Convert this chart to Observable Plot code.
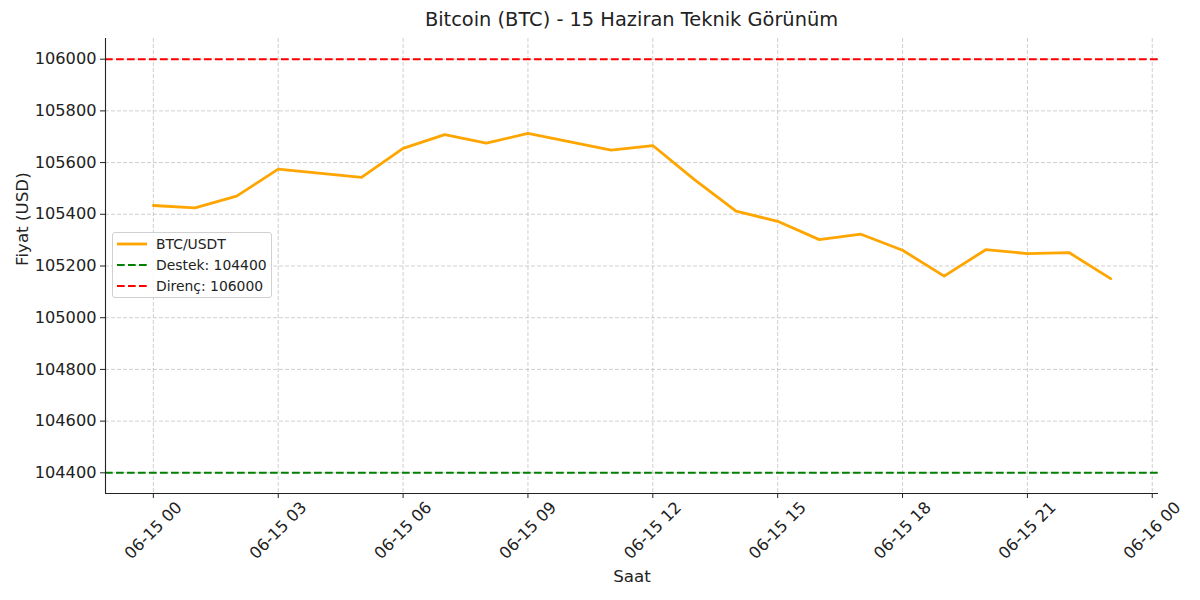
<!DOCTYPE html>
<html><head><meta charset="utf-8">
<script src="https://cdn.jsdelivr.net/npm/d3@7"></script>
<script src="https://cdn.jsdelivr.net/npm/@observablehq/plot@0.6"></script>
<style>
body{margin:0;background:#fff;font-family:"DejaVu Sans",sans-serif;}
#wrap{position:relative;width:1200px;height:600px;overflow:hidden;}
#chart{position:absolute;left:0;top:0;}
#title{position:absolute;top:10px;left:105px;width:1053px;text-align:center;font-size:19.4px;line-height:1;color:#222;white-space:nowrap;}
#legend{position:absolute;left:112px;top:232px;width:160px;height:66px;border:1px solid #d0d0d0;border-radius:3px;background:rgba(255,255,255,0.85);box-sizing:border-box;}
.row{position:absolute;left:0;height:20px;width:160px;}
.row svg{position:absolute;left:3px;top:0;}
.row span{position:absolute;left:43px;top:1px;font-size:13.9px;line-height:18px;color:#222;white-space:nowrap;}
</style></head><body>
<div id="wrap"><div id="chart"></div><div id="title"></div><div id="legend"></div></div>
<script>
// ---- data ----
const titleText = "Bitcoin (BTC) - 15 Haziran Teknik Görünüm";
const xLabel = "Saat";
const yLabel = "Fiyat (USD)";
const hours = [0,1,2,3,5,6,7,8,9,11,12,13,14,15,16,17,18,19,20,21,22,23];
const prices = [105434,105425,105470,105575,105543,105655,105708,105675,105713,105648,105666,105534,105412,105373,105302,105323,105261,105161,105263,105248,105252,105151];
const supportLevel = 104400;
const resistanceLevel = 106000;
const yTicks = [104400,104600,104800,105000,105200,105400,105600,105800,106000];
const xTickHours = [0,3,6,9,12,15,18,21,24];
const legendLabels = ["BTC/USDT","Destek: 104400","Direnç: 106000"];
const legendColors = ["orange","green","red"];

// ---- build ----
const base = Date.UTC(2025,5,15,0);
const t = h => new Date(base + h*3600e3);
const data = hours.map((h,i)=>({date:t(h), price:prices[i]}));
const xTicks = xTickHours.map(t);
const xDomain = [t(-1.15), t(24.15)];
const yDomain = [104320, 106080];
const fmt = d3.utcFormat("%m-%d %H");
const gridStyle = {stroke:"#b0b0b0", strokeOpacity:0.6, strokeDasharray:"4,2", strokeWidth:1};

const chart = Plot.plot({
  width:1200, height:600,
  marginLeft:105, marginRight:42, marginTop:38, marginBottom:107,
  x:{type:"utc", domain:xDomain},
  y:{domain:yDomain},
  style:{fontFamily:"DejaVu Sans", fontSize:"16.2px", color:"#222", background:"white"},
  marks:[
    Plot.gridX(xTicks, gridStyle),
    Plot.gridY(yTicks, gridStyle),
    Plot.ruleY([supportLevel], {stroke:"green", strokeWidth:2, strokeDasharray:"7.7,3.3"}),
    Plot.ruleY([resistanceLevel], {stroke:"red", strokeWidth:2, strokeDasharray:"7.7,3.3"}),
    Plot.line(data, {x:"date", y:"price", stroke:"orange", strokeWidth:2.8}),
    Plot.axisY({ticks:yTicks, tickFormat:"d", tickSize:5, tickPadding:4, label:null, fontSize:16.2}),
    Plot.axisX({ticks:xTicks, tickFormat:()=>"", tickSize:5, label:null}),
    Plot.text(xTicks, {x:d=>d, text:d=>fmt(d), frameAnchor:"bottom", dy:37, rotate:-45, textAnchor:"middle", lineAnchor:"middle", fontSize:16.2, fill:"#222"}),
    Plot.text([xLabel], {frameAnchor:"bottom", dy:83, lineAnchor:"middle", fontSize:16.7, fill:"#222"}),
    Plot.text([yLabel], {frameAnchor:"left", dx:-83, rotate:-90, lineAnchor:"middle", fontSize:16.7, fill:"#222"}),
    Plot.ruleX([xDomain[0]], {stroke:"#222", strokeWidth:1.1}),
    Plot.ruleY([yDomain[0]], {stroke:"#222", strokeWidth:1.1})
  ]
});
document.getElementById("chart").appendChild(chart);
document.getElementById("title").textContent = titleText;

const leg = document.getElementById("legend");
const rowTops = [1, 22, 42.5];
legendLabels.forEach((lab,i)=>{
  const row = document.createElement("div");
  row.className = "row";
  row.style.top = rowTops[i] + "px";
  const dash = i===0 ? "" : 'stroke-dasharray="7.7,3.3"';
  const w = i===0 ? 2.8 : 2;
  row.innerHTML = `<svg width="32" height="20"><line x1="1" x2="31" y1="10" y2="10" stroke="${legendColors[i]}" stroke-width="${w}" ${dash}/></svg><span>${lab}</span>`;
  leg.appendChild(row);
});
</script>
</body></html>
